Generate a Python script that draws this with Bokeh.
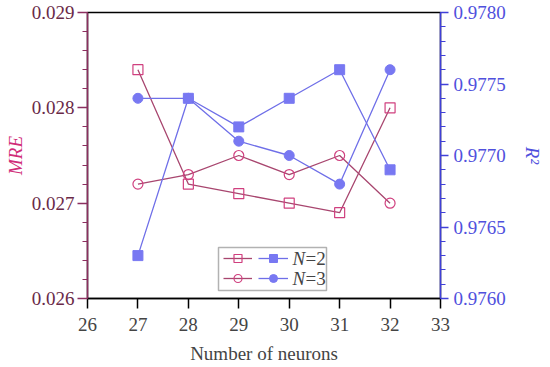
import math
from bokeh.plotting import figure
from bokeh.models import (Range1d, LinearAxis, SingleIntervalTicker, NumeralTickFormatter,
                          Legend, LegendItem, BoxAnnotation, Label)
from bokeh.embed import file_html
from bokeh.resources import INLINE

# ---- data ----
neurons = [27, 28, 29, 30, 31, 32]
mre_n2 = [0.0284, 0.0272, 0.0271, 0.0270, 0.0269, 0.0280]
mre_n3 = [0.0272, 0.0273, 0.0275, 0.0273, 0.0275, 0.0270]
r2_n2 = [0.9763, 0.9774, 0.9772, 0.9774, 0.9776, 0.9769]
r2_n3 = [0.9774, 0.9774, 0.9771, 0.9770, 0.9768, 0.9776]
legend_labels = ["=2", "=3"]

FONT = "Liberation Serif"
FS = "19px"
MRE_LINE = "#a8466f"
MRE_MARK = "#d0407f"
BLUE_LINE = "#6f6fe8"
BLUE_MARK = "#7878f2"

p = figure(width=545, height=366, x_range=Range1d(26, 33), y_range=Range1d(0.026, 0.029),
           output_backend="svg", toolbar_location=None,
           min_border_left=87, min_border_right=105, min_border_top=12, min_border_bottom=68)
p.extra_y_ranges = {"r2": Range1d(0.976, 0.978)}
p.xgrid.visible = False
p.ygrid.visible = False
p.outline_line_color = "black"
p.outline_line_width = 1.5
p.background_fill_color = "white"
p.border_fill_color = "white"

# x axis
xa = p.xaxis[0]
xa.ticker = SingleIntervalTicker(interval=1, num_minor_ticks=0)
xa.axis_label = "Number of neurons"
xa.axis_label_text_font = FONT
xa.axis_label_text_font_size = FS
xa.axis_label_text_font_style = "normal"
xa.axis_label_standoff = 9
xa.major_label_text_font = FONT
xa.major_label_text_font_size = FS
xa.major_label_standoff = 9
xa.major_tick_out = 10
xa.major_tick_in = 0
xa.axis_line_width = 1.5
xa.major_tick_line_width = 1.5
xa.axis_line_color = "black"

# left axis
ya = p.yaxis[0]
ya.ticker = SingleIntervalTicker(interval=0.001, num_minor_ticks=5)
ya.formatter = NumeralTickFormatter(format="0.000")
ya.axis_label = "MRE"
ya.axis_label_text_font = FONT
ya.axis_label_text_font_size = FS
ya.axis_label_text_font_style = "italic"
ya.axis_label_text_color = "#d02c78"
ya.axis_label_standoff = 3
ya.major_label_text_font = FONT
ya.major_label_text_font_size = FS
ya.major_label_text_color = "#6a2a48"
ya.major_label_standoff = 3
ya.axis_line_color = "#8b2f5f"
ya.major_tick_line_color = "#8b2f5f"
ya.minor_tick_line_color = "#8b2f5f"
ya.axis_line_width = 1.5
ya.major_tick_line_width = 1.5
ya.minor_tick_line_width = 1.2
ya.major_tick_out = 10
ya.major_tick_in = 0
ya.minor_tick_out = 5
ya.minor_tick_in = 0

# right axis
ra = LinearAxis(y_range_name="r2")
ra.ticker = SingleIntervalTicker(interval=0.0005, num_minor_ticks=5)
ra.formatter = NumeralTickFormatter(format="0.0000")
ra.axis_label = "R²"
ra.axis_label_text_font = FONT
ra.axis_label_text_font_size = FS
ra.axis_label_text_font_style = "italic"
ra.axis_label_text_color = "#5050dd"
ra.axis_label_standoff = 13
ra.major_label_text_font = FONT
ra.major_label_text_font_size = FS
ra.major_label_text_color = "#5050dd"
ra.major_label_standoff = 5
ra.axis_line_color = "#4040d8"
ra.major_tick_line_color = "#4040d8"
ra.minor_tick_line_color = "#4040d8"
ra.axis_line_width = 1.5
ra.major_tick_line_width = 1.5
ra.minor_tick_line_width = 1.2
ra.major_tick_out = 8
ra.major_tick_in = 0
ra.minor_tick_out = 5
ra.minor_tick_in = 0
p.add_layout(ra, "right")

# series
l_m2 = p.line(neurons, mre_n2, line_color=MRE_LINE, line_width=1.3)
s_m2 = p.scatter(neurons, mre_n2, marker="square", size=10, line_color=MRE_MARK,
                 fill_alpha=0, line_width=1.2)
l_m3 = p.line(neurons, mre_n3, line_color=MRE_LINE, line_width=1.3)
s_m3 = p.scatter(neurons, mre_n3, marker="circle", size=10, line_color=MRE_MARK,
                 fill_alpha=0, line_width=1.2)
l_r2 = p.line(neurons, r2_n2, line_color=BLUE_LINE, line_width=1.3, y_range_name="r2")
s_r2 = p.scatter(neurons, r2_n2, marker="square", size=10, line_color=BLUE_MARK,
                 fill_color=BLUE_MARK, y_range_name="r2")
l_r3 = p.line(neurons, r2_n3, line_color=BLUE_LINE, line_width=1.3, y_range_name="r2")
s_r3 = p.scatter(neurons, r2_n3, marker="circle", size=10, line_color=BLUE_MARK,
                 fill_color=BLUE_MARK, y_range_name="r2")

# legend (two borderless legends side by side + frame + labels)
def mk_legend(items, loc, gw):
    lg = Legend(items=items, location=loc, padding=0, margin=0, spacing=0,
                glyph_width=gw, glyph_height=20, label_width=0, label_height=20,
                label_standoff=0, label_text_font_size="1px",
                border_line_alpha=0, background_fill_alpha=0)
    return lg

lg1 = mk_legend([LegendItem(label=" ", renderers=[l_m2, s_m2]),
                 LegendItem(label=" ", renderers=[l_m3, s_m3])], (136, 10), 29)
lg2 = mk_legend([LegendItem(label=" ", renderers=[l_r2, s_r2]),
                 LegendItem(label=" ", renderers=[l_r3, s_r3])], (171, 10), 30)
p.add_layout(lg1, "center")
p.add_layout(lg2, "center")

box = BoxAnnotation(left=131, right=239, bottom=8, top=51,
                    left_units="screen", right_units="screen",
                    top_units="screen", bottom_units="screen",
                    fill_alpha=0, line_color="black", line_width=1.5)
p.add_layout(box)

for i, lab in enumerate(legend_labels):
    yy = 40 - 20 * i
    p.add_layout(Label(x=205, y=yy, x_units="screen", y_units="screen", text="N",
                       text_font=FONT, text_font_size=FS, text_font_style="italic",
                       text_baseline="middle"))
    p.add_layout(Label(x=218, y=yy, x_units="screen", y_units="screen", text=lab,
                       text_font=FONT, text_font_size=FS, text_baseline="middle"))

open("out.html", "w").write(file_html(p, INLINE))
